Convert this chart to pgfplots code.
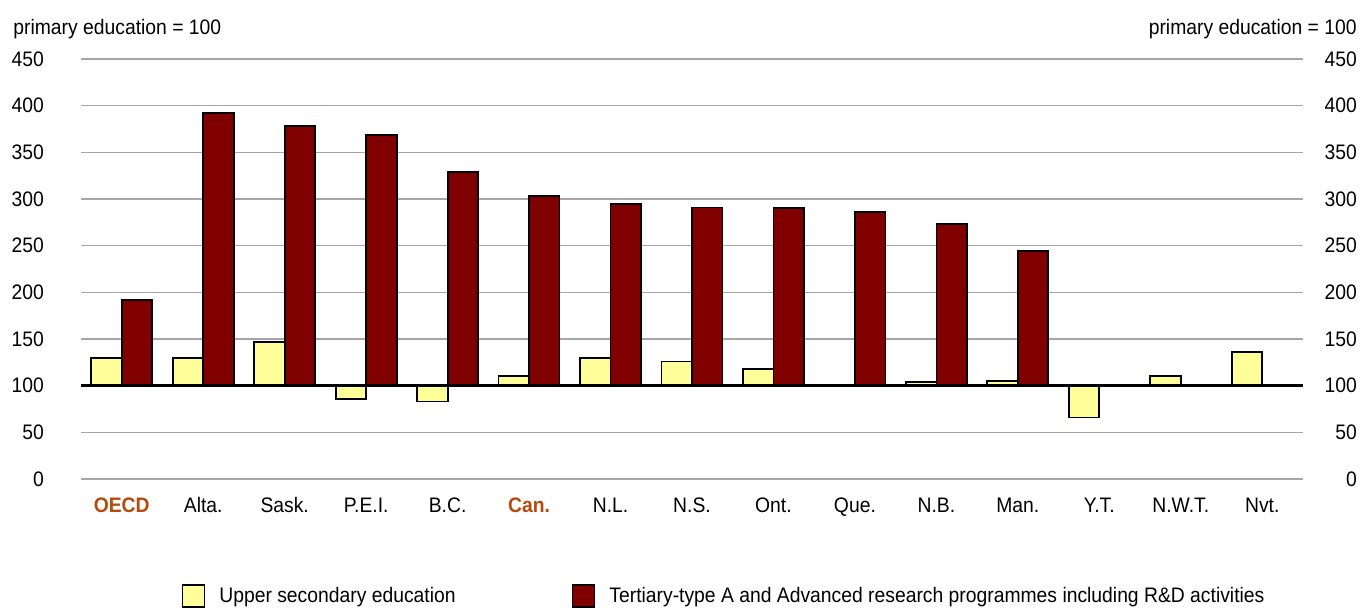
\documentclass[border=0pt]{standalone}
\usepackage{fontspec}
\setmainfont{Liberation Sans}[FakeStretch=0.92]
\usepackage{pgfplots}
\pgfplotsset{compat=1.18}
\definecolor{upsec}{HTML}{FFFF99}
\definecolor{tert}{HTML}{800000}
\definecolor{hilite}{HTML}{B54A0C}
\definecolor{gridgray}{HTML}{A6A6A6}
\newcommand{\fs}{\fontsize{10.5}{12}\selectfont}

\begin{document}
\begin{tikzpicture}
\begin{axis}[
    name=ax,
    at={(0,0)}, anchor=south west,
    scale only axis,
    width=611pt, height=210pt,
    font=\fs,
    ybar=0pt, bar width=15.25pt,
    xmin=-0.5, xmax=14.5,
    ymin=-100, ymax=350,
    y filter/.expression={y-100},
    xtick={0,...,14},
    xticklabels={\textbf{\color{hilite}OECD},Alta.,Sask.,P.E.I.,B.C.,\textbf{\color{hilite}Can.},N.L.,N.S.,Ont.,Que.,N.B.,Man.,Y.T.,N.W.T.,Nvt.},
    ytick={-100,-50,0,50,100,150,200,250,300,350},
    yticklabels={0,50,100,150,200,250,300,350,400,450},
    ytick pos=left,
    axis line style={draw=none},
    tick style={draw=none},
    ymajorgrids,
    grid style={gridgray, line width=0.75pt},
    yticklabel style={xshift=-15pt},
    xticklabel style={yshift=-1.5pt},
    clip=false,
    legend columns=2,
    legend style={draw=none, fill=none, font=\fs, at={(0.527,-0.279)}, anchor=center,
        /tikz/every odd column/.append style={column sep=5pt},
        /tikz/every even column/.append style={column sep=56pt}},
    legend image code/.code={\draw[#1] (0pt,-5.5pt) rectangle (11pt,5.5pt);},
]
\addplot[fill=upsec, draw=black, line width=0.9pt] coordinates {
    (0,130) (1,130) (2,147) (3,86) (4,83) (5,110) (6,130) (7,126)
    (8,118) (9,101) (10,104) (11,105) (12,66) (13,110) (14,136)
};
\addlegendentry{Upper secondary education}
\addplot[fill=tert, draw=black, line width=0.9pt] coordinates {
    (0,192) (1,392) (2,378) (3,369) (4,329) (5,303) (6,295) (7,291)
    (8,290) (9,286) (10,273) (11,244)
};
\addlegendentry{Tertiary-type A and Advanced research programmes including R\&D activities}
\draw[black, line width=1.5pt] (axis cs:-0.5,0) -- (axis cs:14.5,0);
\end{axis}
\begin{axis}[
    at={(0,0)}, anchor=south west,
    scale only axis,
    width=611pt, height=210pt,
    font=\fs,
    xmin=-0.5, xmax=14.5,
    ymin=-100, ymax=350,
    hide x axis,
    ytick={-100,-50,0,50,100,150,200,250,300,350},
    yticklabels={0,50,100,150,200,250,300,350,400,450},
    yticklabel pos=right,
    ytick pos=right,
    axis line style={draw=none},
    tick style={draw=none},
    yticklabel style={anchor=east, xshift=30.5pt},
]
\addplot[draw=none] coordinates {(0,0)};
\end{axis}
\node[anchor=west, inner sep=0pt, font=\fs] at ([xshift=-34pt,yshift=225pt]ax.south west) {primary education = 100};
\node[anchor=east, inner sep=0pt, font=\fs] at ([xshift=27pt,yshift=225pt]ax.south east) {primary education = 100};
\path ([xshift=-40.5pt,yshift=-64.5pt]ax.south west) rectangle ([xshift=645pt,yshift=239.5pt]ax.south west);
\end{tikzpicture}
\end{document}
